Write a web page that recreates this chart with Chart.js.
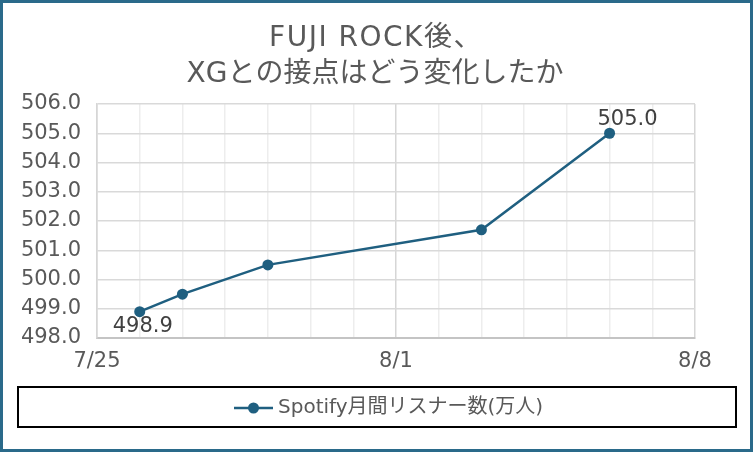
<!DOCTYPE html>
<html lang="ja">
<head>
<meta charset="utf-8">
<script src="https://cdn.jsdelivr.net/npm/chart.js@4/dist/chart.umd.min.js"></script>
<style>
    html, body { margin: 0; padding: 0; background: #fff; }
    #wrap { width: 753px; height: 452px; position: relative; }
</style>
</head>
<body>
<div id="wrap"><canvas id="chart" width="753" height="452"></canvas></div>
<script>
// datos
const fechas = ['7/26', '7/27', '7/29', '8/3', '8/6'];
const oyentes = [498.9, 499.5, 500.5, 501.7, 505.0];
const etiquetasX = ['7/25', '8/1', '8/8'];
const titulo = ['FUJI ROCK後、', 'XGとの接点はどう変化したか'];
const serieNombre = 'Spotify月間リスナー数(万人)';

const FUENTE = '"DejaVu Sans", "Noto Sans CJK JP", sans-serif';
const COLOR_LINEA = '#1f5f80';

// días desde 7/25
function diaDesdeInicio(f) {
    const [m, d] = f.split('/').map(Number);
    return (Date.UTC(2025, m - 1, d) - Date.UTC(2025, 6, 25)) / 86400000;
}
const diaMax = diaDesdeInicio(etiquetasX[etiquetasX.length - 1]);
const posEtiquetas = etiquetasX.map(diaDesdeInicio);
const esPrincipal = v => posEtiquetas.includes(v);

const puntos = fechas.map((f, i) => ({ x: diaDesdeInicio(f), y: oyentes[i] }));

// título, marco exterior, leyenda y etiquetas de datos
const decoracion = {
    id: 'decoracion',
    afterDraw(chart) {
        const ctx = chart.ctx;
        ctx.save();

        ctx.fillStyle = '#595959';
        ctx.textAlign = 'center';
        ctx.textBaseline = 'alphabetic';
        ctx.font = '28px ' + FUENTE;
        ctx.letterSpacing = '1.5px';
        ctx.fillText(titulo[0], 376, 46);
        ctx.letterSpacing = '0px';
        ctx.fillText(titulo[1], 375, 82);

        // etiquetas de datos (primero y último)
        const meta = chart.getDatasetMeta(0).data;
        ctx.fillStyle = '#404040';
        ctx.font = '21px ' + FUENTE;
        ctx.textBaseline = 'middle';
        const p0 = meta[0];
        ctx.fillText(oyentes[0].toFixed(1), p0.x + 3, p0.y + 15);
        const pN = meta[meta.length - 1];
        ctx.fillText(oyentes[oyentes.length - 1].toFixed(1), pN.x + 18, pN.y - 14);

        // leyenda
        ctx.strokeStyle = '#000';
        ctx.lineWidth = 2;
        ctx.strokeRect(18, 387, 718, 40);
        ctx.strokeStyle = COLOR_LINEA;
        ctx.lineWidth = 2.5;
        ctx.beginPath();
        ctx.moveTo(234, 408);
        ctx.lineTo(273, 408);
        ctx.stroke();
        ctx.fillStyle = COLOR_LINEA;
        ctx.beginPath();
        ctx.arc(253.5, 408, 5.5, 0, Math.PI * 2);
        ctx.fill();
        ctx.fillStyle = '#595959';
        ctx.font = '20px ' + FUENTE;
        ctx.textAlign = 'left';
        ctx.fillText(serieNombre, 278, 408);

        // marco exterior
        ctx.strokeStyle = '#2a6a8a';
        ctx.lineWidth = 3;
        ctx.strokeRect(1.5, 1.5, 750, 449);
        ctx.restore();
    }
};

new Chart(document.getElementById('chart'), {
    type: 'line',
    data: {
        datasets: [{
            label: serieNombre,
            data: puntos,
            borderColor: COLOR_LINEA,
            backgroundColor: COLOR_LINEA,
            borderWidth: 2.5,
            pointRadius: 5.5,
            pointBackgroundColor: COLOR_LINEA,
            pointBorderWidth: 0,
            tension: 0
        }]
    },
    options: {
        responsive: false,
        animation: false,
        layout: { padding: { left: 0, right: 58, top: 104, bottom: 0 } },
        plugins: {
            legend: { display: false },
            title: { display: false },
            tooltip: { enabled: false }
        },
        scales: {
            x: {
                type: 'linear',
                min: 0,
                max: diaMax,
                afterBuildTicks: s => { s.ticks = Array.from({ length: diaMax + 1 }, (_, i) => ({ value: i })); },
                afterFit: s => { s.height = 114; },
                grid: {
                    color: c => esPrincipal(c.tick.value) ? '#d6d6d6' : '#ededed',
                    lineWidth: 1.5,
                    drawTicks: false
                },
                border: { color: '#c4c4c4', width: 2 },
                ticks: {
                    autoSkip: false,
                    maxRotation: 0,
                    padding: 11,
                    color: '#595959',
                    font: { family: FUENTE, size: 21 },
                    callback: v => {
                        const k = posEtiquetas.indexOf(v);
                        return k >= 0 ? etiquetasX[k] : '';
                    }
                }
            },
            y: {
                min: 498,
                max: 506,
                afterFit: s => { s.width = 97; },
                grid: { color: '#d9d9d9', lineWidth: 1.5, drawTicks: false },
                border: { color: '#d6d6d6', width: 1.5 },
                ticks: {
                    stepSize: 1,
                    padding: 16,
                    color: '#595959',
                    font: { family: FUENTE, size: 21 },
                    callback: v => v.toFixed(1)
                }
            }
        }
    },
    plugins: [decoracion]
});
</script>
</body>
</html>
